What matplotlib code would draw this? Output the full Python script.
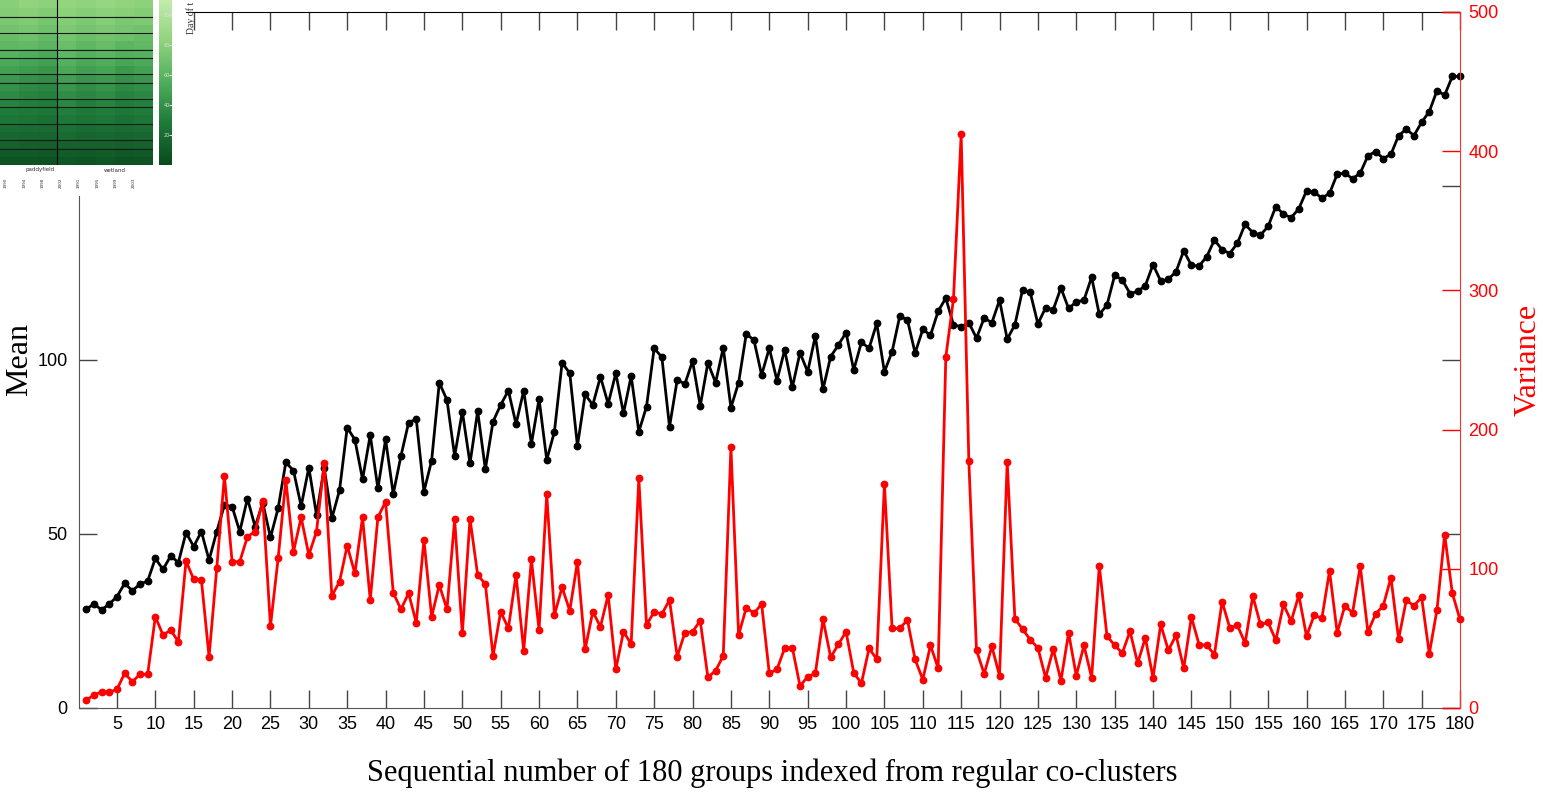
import matplotlib
matplotlib.use("Agg")
import matplotlib.pyplot as plt
from matplotlib.colors import LinearSegmentedColormap
import numpy as np

# ---------------- data ----------------
group_index = list(range(1, 181))

mean_values = [
    28.4, 29.9, 28.2, 29.9, 32.0, 35.8, 33.7, 35.6, 36.5, 43.0,
    39.8, 43.7, 41.8, 50.4, 46.4, 50.7, 42.5, 50.7, 58.3, 57.9,
    50.7, 60.2, 52.1, 59.0, 49.0, 57.4, 70.6, 68.2, 58.0, 69.1,
    55.5, 69.0, 54.5, 62.6, 80.6, 77.1, 65.7, 78.4, 63.1, 77.2,
    61.5, 72.4, 82.0, 83.0, 62.2, 71.1, 93.5, 88.5, 72.4, 85.2,
    70.3, 85.3, 68.6, 82.3, 87.1, 91.2, 81.6, 91.2, 75.9, 88.8,
    71.3, 79.4, 99.2, 96.2, 75.3, 90.1, 87.1, 95.2, 87.4, 96.2,
    84.7, 95.4, 79.4, 86.6, 103.4, 100.8, 80.8, 94.3, 93.1, 99.7,
    86.8, 99.2, 93.5, 103.5, 86.3, 93.5, 107.5, 105.7, 95.7, 103.4,
    94.1, 102.9, 92.1, 102.1, 96.6, 106.9, 91.6, 101.0, 104.3, 107.9,
    97.1, 105.1, 103.4, 110.5, 96.6, 102.4, 112.6, 111.5, 102.0, 108.8,
    107.1, 114.0, 117.8, 110.1, 109.6, 110.7, 106.3, 112.1, 110.7, 117.2,
    106.0, 110.1, 120.2, 119.4, 110.4, 115.0, 114.5, 120.7, 114.8, 116.7,
    117.2, 123.8, 113.1, 115.8, 124.3, 123.0, 119.1, 119.7, 121.4, 127.4,
    122.7, 123.2, 125.4, 131.4, 127.2, 127.0, 129.7, 134.5, 131.7, 130.6,
    133.6, 139.0, 136.6, 135.9, 138.4, 144.1, 141.9, 140.9, 143.5, 148.6,
    148.3, 146.5, 147.9, 153.4, 153.7, 152.1, 153.7, 158.7, 159.9, 157.9,
    159.1, 164.5, 166.3, 164.5, 168.3, 171.4, 177.4, 176.1, 181.5, 181.5,
]

variance_values = [
    5.7, 9.3, 11.7, 11.2, 13.4, 24.9, 18.9, 24.2, 24.2, 65.6,
    52.4, 56.0, 47.6, 105.6, 92.4, 92.0, 36.9, 100.3, 166.7, 105.1,
    105.1, 123.1, 126.7, 148.9, 58.9, 107.5, 163.8, 112.3, 137.0, 109.9,
    126.7, 176.0, 80.5, 90.8, 116.6, 96.7, 137.0, 77.6, 137.0, 148.2,
    82.8, 70.9, 82.4, 61.3, 120.7, 65.6, 88.4, 70.9, 135.5, 53.6,
    136.0, 95.5, 89.1, 37.4, 69.2, 57.2, 95.5, 41.2, 106.8, 56.0,
    153.7, 66.8, 86.7, 69.9, 105.1, 42.1, 69.2, 58.4, 81.2, 27.8,
    54.8, 46.0, 165.0, 59.6, 69.2, 67.5, 77.6, 36.9, 54.1, 54.8,
    62.7, 22.0, 26.8, 37.4, 187.3, 52.4, 72.1, 68.0, 74.7, 24.9,
    27.8, 42.9, 43.4, 15.8, 22.5, 24.9, 63.7, 36.4, 45.7, 54.8,
    25.4, 17.7, 42.9, 35.0, 160.9, 57.2, 57.2, 63.2, 34.9, 20.4,
    45.0, 28.6, 252.2, 293.9, 412.2, 177.2, 41.4, 24.5, 44.2, 23.2,
    176.7, 64.1, 56.7, 49.1, 43.1, 21.8, 42.3, 19.6, 54.0, 23.2,
    45.0, 21.8, 102.2, 51.8, 45.0, 39.5, 55.1, 32.2, 50.4, 21.8,
    60.0, 41.4, 52.3, 28.5, 65.4, 45.6, 45.0, 38.4, 76.5, 57.6,
    59.4, 46.5, 80.4, 60.0, 61.5, 48.6, 74.4, 62.4, 81.0, 51.6,
    66.6, 64.5, 98.4, 54.0, 73.5, 68.4, 102.0, 54.6, 67.5, 73.5,
    93.6, 49.5, 77.4, 73.5, 79.5, 39.0, 70.5, 124.5, 82.5, 63.6,
]

x_ticks = list(range(5, 181, 5))
mean_ticks = [0, 50, 100, 150, 200]
variance_ticks = [0, 100, 200, 300, 400, 500]

# small heat map fragment shown in the upper-left corner (values estimated)
heat_values = [
    [80, 84, 82, 85, 83, 86, 84, 82],
    [78, 80, 77, 82, 79, 81, 80, 78],
    [74, 77, 73, 78, 75, 79, 74, 76],
    [70, 73, 69, 75, 71, 74, 72, 70],
    [66, 69, 64, 71, 67, 70, 68, 65],
    [62, 64, 60, 67, 62, 66, 61, 63],
    [58, 55, 52, 62, 57, 60, 56, 58],
    [53, 50, 48, 57, 52, 55, 51, 53],
    [48, 45, 42, 52, 47, 50, 44, 48],
    [44, 40, 38, 47, 42, 45, 40, 43],
    [40, 36, 34, 42, 38, 41, 36, 39],
    [36, 33, 31, 38, 34, 37, 32, 35],
    [32, 30, 28, 34, 30, 33, 29, 31],
    [28, 27, 25, 30, 27, 29, 26, 28],
    [25, 24, 22, 27, 24, 26, 23, 25],
    [21, 20, 19, 23, 20, 22, 19, 21],
    [18, 17, 16, 19, 17, 18, 16, 18],
    [14, 13, 13, 15, 14, 15, 13, 14],
    [10, 10, 9, 11, 10, 11, 9, 10],
    [6, 6, 5, 7, 6, 7, 5, 6],
]
heat_row_breaks = [1.5, 3.5, 5.5, 6.5, 8.5, 9.5, 11.5, 12.5, 14.5, 16.5, 17.5]
heat_group_labels = ["paddyfield", "wetland"]
heat_col_labels = ["1990", "1994", "1998", "2002", "1991", "1995", "1999", "2003"]
heat_cbar_ticks = [20, 40, 60, 80, 100]

# ---------------- figure ----------------
W, H = 1543, 793
fig = plt.figure(figsize=(W / 100, H / 100), dpi=100)
fig.patch.set_facecolor("white")

sans = ["Liberation Sans", "DejaVu Sans"]
serif = ["Liberation Serif", "DejaVu Serif"]

ax = fig.add_axes([78.6 / W, (H - 708) / H, (1460 - 78.6) / W, 696 / H])
ax2 = ax.twinx()

ax.plot(group_index, mean_values, "-o", color="black", lw=2.0, ms=4.6,
        mec="black", mfc="black", clip_on=False, zorder=3)
ax2.plot(group_index, variance_values, "-o", color="red", lw=2.0, ms=4.6,
         mec="red", mfc="red", clip_on=False, zorder=3)

ax.set_xlim(0, 180)
ax.set_ylim(0, 200)
ax2.set_ylim(0, 500)

ax.set_xticks(x_ticks)
ax.set_yticks(mean_ticks)
ax2.set_yticks(variance_ticks)

ax.tick_params(axis="both", direction="in", length=13, width=1.0,
               top=True, right=True, labelright=False, labelsize=13,
               color="#444444", labelcolor="black", pad=6)
ax.tick_params(axis="y", pad=8)
ax2.tick_params(axis="y", direction="in", length=13, width=1.0,
                color="red", labelcolor="red", labelsize=13, pad=6)

for lab in ax.get_xticklabels() + ax.get_yticklabels() + ax2.get_yticklabels():
    lab.set_fontfamily(sans)

for side in ["left", "bottom"]:
    ax.spines[side].set_color("#555555")
ax.spines["top"].set_color("black")
ax.spines["right"].set_visible(False)
for side in ["left", "bottom", "top"]:
    ax2.spines[side].set_visible(False)
ax2.spines["right"].set_color("#ff3030")

ax.set_xlabel("Sequential number of 180 groups indexed from regular co-clusters",
              fontsize=22, fontfamily=serif, color="black", va="center")
ax.xaxis.set_label_coords(0.502, -0.0935)
ax.set_ylabel("Mean", fontsize=23, fontfamily=serif, color="black",
              va="center", ha="center")
ax.yaxis.set_label_coords(-0.0425, 0.5)
ax2.set_ylabel("Variance", fontsize=23, fontfamily=serif, color="red",
               va="center", ha="center")
ax2.yaxis.set_label_coords(1.049, 0.5)

# ---------------- pasted heat-map fragment (upper-left) ----------------
bg = fig.add_axes([0, (H - 196) / H, 186 / W, 196 / H], zorder=10)
bg.set_facecolor("white")
bg.set_xticks([])
bg.set_yticks([])
for s in bg.spines.values():
    s.set_visible(False)

greens = LinearSegmentedColormap.from_list(
    "grn", ["#0a4a1e", "#1f7a3a", "#4fae5c", "#8fd27c", "#c2ecae"])

hax = fig.add_axes([0, (H - 165) / H, 153 / W, 165 / H], zorder=11)
hax.imshow(np.array(heat_values), cmap=greens, vmin=0, vmax=110,
           aspect="auto", interpolation="nearest")
for yb in heat_row_breaks:
    hax.axhline(yb, color="#1a1a1a", lw=0.8)
hax.axvline(2.5, color="black", lw=0.8)
hax.set_xticks([])
hax.set_yticks([])
for s in hax.spines.values():
    s.set_visible(False)

cax = fig.add_axes([159 / W, (H - 165) / H, 13 / W, 165 / H], zorder=11)
grad = np.linspace(0, 110, 100).reshape(-1, 1)
cax.imshow(grad, cmap=greens, vmin=0, vmax=110, aspect="auto",
           origin="lower", extent=[0, 1, 0, 110])
cax.set_xticks([])
cax.set_yticks(heat_cbar_ticks)
cax.tick_params(axis="y", direction="in", length=2, labelsize=3.5,
                right=True, left=False, labelright=True, labelleft=False,
                pad=-6, colors="#dddddd")
for s in cax.spines.values():
    s.set_visible(False)

fig.text(40 / W, (H - 170) / H, heat_group_labels[0], fontsize=4,
         ha="center", va="center", color="#333333", zorder=12)
fig.text(115 / W, (H - 170) / H, heat_group_labels[1], fontsize=4,
         ha="center", va="center", color="#333333", zorder=12)
for k, lab in enumerate(heat_col_labels):
    xp = 6 + k * (146 / len(heat_col_labels))
    fig.text(xp / W, (H - 178) / H, lab, fontsize=3, rotation=90,
             ha="center", va="top", color="#333333", zorder=12)
fig.text(191 / W, (H - 34) / H, "Day of t", fontsize=7,
         fontfamily=serif, rotation=90, ha="center", va="bottom",
         color="#333333", zorder=12)

fig.savefig("out.png", dpi=100, facecolor="white")
